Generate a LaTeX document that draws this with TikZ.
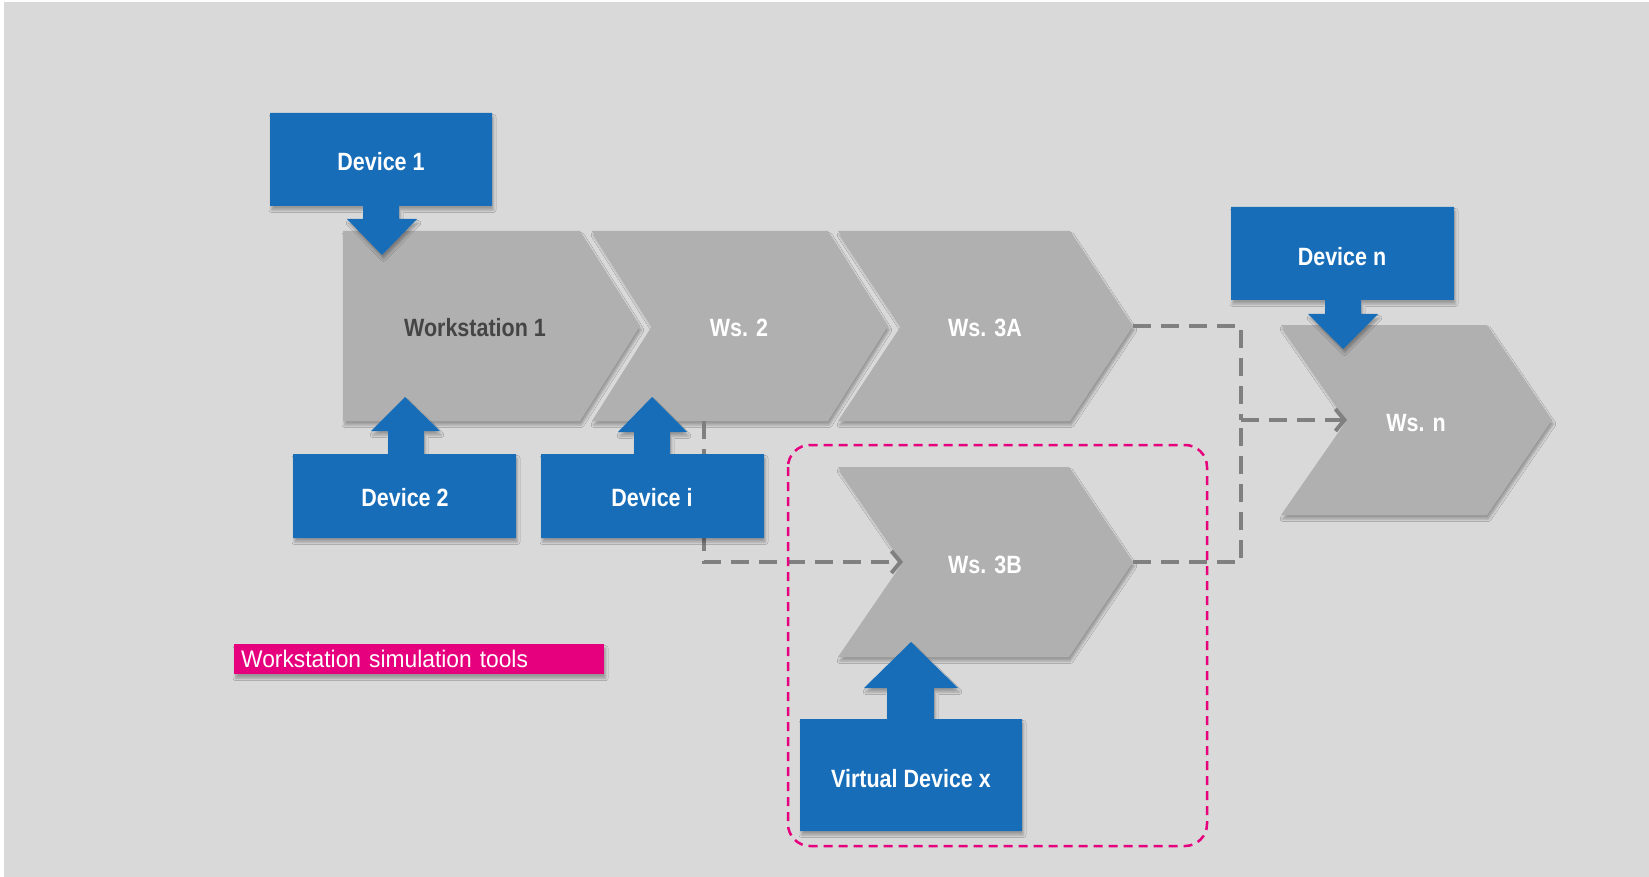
\documentclass[tikz,border=0pt]{standalone}
\usepackage{fontspec}
\setmainfont{Liberation Sans}[FakeStretch=0.86]
\newfontfamily\legfont{Liberation Sans}[FakeStretch=0.95]
\usetikzlibrary{arrows.meta,shadows.blur}
\definecolor{bgcol}{HTML}{D9D9D9}
\definecolor{chevcol}{HTML}{B0B0B0}
\definecolor{devblue}{HTML}{186DB9}
\definecolor{magcol}{HTML}{E6007E}
\definecolor{conncol}{HTML}{808080}
\definecolor{darktext}{HTML}{454545}
\tikzset{
  softshadow/.style={blur shadow={shadow xshift=1.5pt,shadow yshift=-4pt,shadow blur radius=2.5pt,shadow opacity=30}},
  chevshape/.style={fill=chevcol,softshadow},
  devshape/.style={fill=devblue,softshadow},
  lbl/.style={font=\fontsize{25}{30}\selectfont\bfseries,text=white,inner sep=0pt},
  connline/.style={draw=conncol,line width=4pt,dash pattern=on 18pt off 10pt},
  connarrow/.style={connline,-{Straight Barb[length=9pt,width=22pt]}},
  simbox/.style={draw=magcol,line width=2.5pt,dash pattern=on 9pt off 6pt,rounded corners=22pt},
  legendbox/.style={fill=magcol,softshadow,text=white,font=\legfont\fontsize{24}{28}\selectfont,
    minimum width=370pt,minimum height=30pt,text width=356pt,align=left,inner xsep=7pt,inner ysep=0pt}
}
\begin{document}
\begin{tikzpicture}[x=1pt,y=-1pt]
\useasboundingbox (0,0) rectangle (1649,877);
\fill[white] (0,0) rectangle (1649,877);
\fill[bgcol] (4,2) rectangle (1649,877);

% chevrons
\path[chevshape] (343,231) -- (580,231) -- (640,326) -- (580,421) -- (343,421) -- cycle;
\path[chevshape] (592,231) -- (828,231) -- (888,326) -- (828,421) -- (592,421) -- (652,326) -- cycle;
\path[chevshape] (838,231) -- (1070,231) -- (1133,326) -- (1070,421) -- (838,421) -- (901,326) -- cycle;
\path[chevshape] (838,467) -- (1069,467) -- (1133,562) -- (1069,657) -- (838,657) -- (903,562) -- cycle;
\path[chevshape] (1281,325) -- (1487,325) -- (1552,420) -- (1487,515) -- (1281,515) -- (1347,420) -- cycle;

\coordinate (ws2-bot) at (704,421);
\coordinate (ws3a-tip) at (1133,326);
\coordinate (ws3b-tip) at (1133,562);
\coordinate (ws3b-notch) at (903,562);
\coordinate (wsn-notch) at (1347,420);
\coordinate (merge) at (1241,420);

\node[lbl,text=darktext] (ws1) at (475,328) {Workstation 1};
\node[lbl] (ws2) at (739,328) {Ws. 2};
\node[lbl] (ws3a) at (985,328) {Ws. 3A};
\node[lbl] (ws3b) at (985,565) {Ws. 3B};
\node[lbl] (wsn) at (1416,423) {Ws. n};

% connectors
\draw[connarrow] (ws2-bot) |- (ws3b-notch);
\draw[connline] (ws3a-tip) -| (merge);
\draw[connline] (ws3b-tip) -| (merge);
\draw[connarrow] (merge) -- (wsn-notch);

% devices
\path[devshape] (270,113) -- (492,113) -- (492,206) -- (399,206) -- (399,219) -- (417,219) -- (382,255)
  -- (347,219) -- (363,219) -- (363,206) -- (270,206) -- cycle;
\node[lbl] (d1) at (381,162) {Device 1};

\path[devshape] (293,454) -- (388,454) -- (388,431) -- (371,431) -- (405,397) -- (440,431) -- (424,431)
  -- (424,454) -- (516,454) -- (516,538) -- (293,538) -- cycle;
\node[lbl] (d2) at (405,498) {Device 2};

\path[devshape] (541,454) -- (634,454) -- (634,432) -- (618,432) -- (652,397) -- (687,432) -- (670,432)
  -- (670,454) -- (764,454) -- (764,538) -- (541,538) -- cycle;
\node[lbl] (di) at (652,498) {Device i};

\path[devshape] (1231,207) -- (1454,207) -- (1454,300) -- (1361,300) -- (1361,314) -- (1378,314) -- (1343,349)
  -- (1308,314) -- (1325,314) -- (1325,300) -- (1231,300) -- cycle;
\node[lbl] (dn) at (1342,257) {Device n};

\path[devshape] (800,719) -- (887,719) -- (887,688) -- (864,688) -- (911,642) -- (958,688) -- (934,688)
  -- (934,719) -- (1022,719) -- (1022,831) -- (800,831) -- cycle;
\node[lbl] (dx) at (911,779) {Virtual Device x};

% simulation area
\draw[simbox] (788,445) rectangle (1207,846);

% legend
\node[legendbox,anchor=north west] (legend) at (234,644) {Workstation simulation tools};
\end{tikzpicture}
\end{document}
